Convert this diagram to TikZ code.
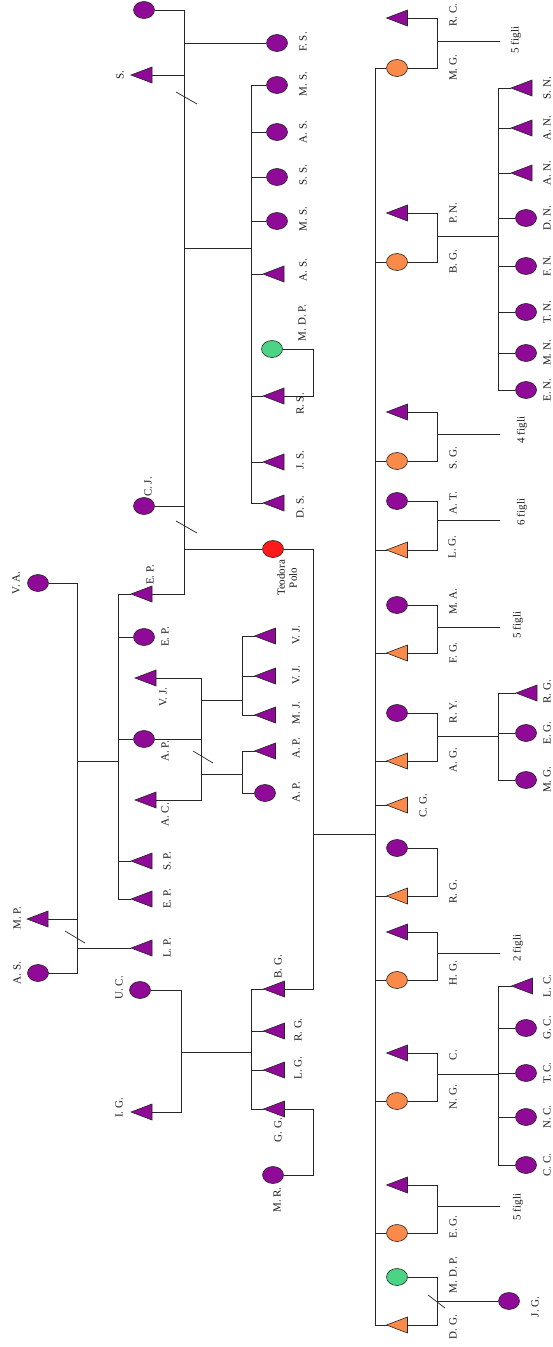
\documentclass[tikz,border=0pt]{standalone}
\usepackage{fontspec}
\setmainfont{Liberation Serif}
\usetikzlibrary{shapes.geometric}
\definecolor{pur}{HTML}{8E0A97}
\definecolor{org}{HTML}{F98A4A}
\definecolor{grn}{HTML}{4BD483}
\definecolor{rd}{HTML}{FF1A1A}
\tikzset{
 ln/.style={draw=black!85, line width=0.7pt},
 pc/.style={ellipse, draw=black!85, line width=0.6pt, minimum width=21pt, minimum height=17pt, inner sep=0pt},
 lab/.style={rotate=90, font=\fontsize{11}{12}\selectfont, inner sep=0pt, text=black!90},
 trib/.style={draw=black!85, line width=0.6pt, line join=miter},
}
\newcommand\tri[4]{\path (#2,#3) coordinate (#1) (#2-10.5,#3) coordinate (#1-l) (#2+10.5,#3) coordinate (#1-r); \filldraw[trib, fill=#4] (#1-l) -- (#2+10.5,#3-8) -- (#2+10.5,#3+8) -- cycle;}
\begin{document}
\begin{tikzpicture}[x=1pt,y=-1pt]
\useasboundingbox (0,0) rectangle (553,1347);
% bus coordinates
\coordinate (bT) at (184,0); \coordinate (bS) at (251,0); \coordinate (bB) at (313,0);
\coordinate (bP) at (77,0); \coordinate (bE) at (118,0); \coordinate (bA) at (201,0);
\coordinate (bJ) at (242,0); \coordinate (bU) at (181,0);
\coordinate (bM) at (375,0); \coordinate (bR) at (437,0); \coordinate (bK) at (498,0);

% ---------- top family ----------
\node[pc, fill=pur] (c0) at (144,10) {};
\node[pc, fill=pur] (FS) at (277,43) {};
\tri{S}{141.5}{75}{pur}
\node[pc,fill=pur] (MS1) at (277,85) {};
\node[pc,fill=pur] (AS1) at (277,132) {};
\node[pc,fill=pur] (SS) at (277,177) {};
\node[pc,fill=pur] (MS2) at (277,221) {};
\tri{AS2}{273.5}{274}{pur}
\node[pc,fill=grn] (MDP1) at (272,349) {};
\tri{RS}{273.5}{396}{pur}
\tri{JS}{273.5}{462}{pur}
\tri{DS}{273.5}{503}{pur}
\node[pc,fill=pur] (CJ) at (144,506) {};
\node[pc,fill=rd] (TP) at (273,549) {};
\tri{EP}{141.5}{594}{pur}

% ---------- E.P. family ----------
\node[pc,fill=pur] (VA) at (38,583) {};
\node[pc,fill=pur] (EPc) at (144,637) {};
\tri{VJ}{145.5}{678}{pur}
\node[pc,fill=pur] (APc) at (144,739) {};
\tri{AC}{145.5}{800}{pur}
\tri{SP}{141.5}{861}{pur}
\tri{EPb}{141.5}{899}{pur}
\tri{MP}{37.5}{919}{pur}
\tri{LP}{141.5}{948}{pur}
\node[pc,fill=pur] (ASc) at (38,973) {};
\tri{VJa}{265}{636}{pur}
\tri{VJb}{265}{676}{pur}
\tri{MJ}{265}{715}{pur}
\tri{APb}{265}{751}{pur}
\node[pc,fill=pur] (APd) at (265,793) {};

% ---------- U.C. family ----------
\node[pc,fill=pur] (UC) at (140,990) {};
\tri{IG}{141.5}{1112}{pur}
\tri{BG}{274}{989}{pur}
\tri{RG}{274}{1031}{pur}
\tri{LG}{274}{1070}{pur}
\tri{GG}{274}{1109}{pur}
\node[pc,fill=pur] (MR) at (273,1175) {};

% ---------- right family ----------
\tri{RC}{397}{18}{pur}
\node[pc,fill=org] (MG) at (397,68) {};
\tri{PN}{397}{213}{pur}
\node[pc,fill=org] (BGo) at (397,262) {};
\tri{SN}{521.5}{88}{pur}
\tri{ANa}{521.5}{128}{pur}
\tri{ANb}{521.5}{173}{pur}
\node[pc,fill=pur] (DN) at (526,218) {};
\node[pc,fill=pur] (FN) at (526,266) {};
\node[pc,fill=pur] (TN) at (526,312) {};
\node[pc,fill=pur] (MN) at (526,353) {};
\node[pc,fill=pur] (EN) at (526,390) {};
\tri{SGt}{397}{412}{pur}
\node[pc,fill=org] (SGo) at (397,461) {};
\node[pc,fill=pur] (AT) at (397,501) {};
\tri{LGo}{397}{550}{org}
\node[pc,fill=pur] (MA) at (397,605) {};
\tri{FGo}{397}{653}{org}
\node[pc,fill=pur] (RY) at (397,713) {};
\tri{AGo}{397}{761}{org}
\tri{RGc}{526.5}{693}{pur}
\node[pc,fill=pur] (EGc) at (526,733) {};
\node[pc,fill=pur] (MGc) at (526,780) {};
\tri{CGo}{397}{805}{org}
\node[pc,fill=pur] (RGp) at (397,848) {};
\tri{RGo}{397}{896}{org}
\tri{HGt}{397}{932}{pur}
\node[pc,fill=org] (HGo) at (397,980) {};
\tri{Ct}{397}{1053}{pur}
\node[pc,fill=org] (NGo) at (397,1101) {};
\tri{LC}{522}{986}{pur}
\node[pc,fill=pur] (GC) at (526,1028) {};
\node[pc,fill=pur] (TC) at (526,1073) {};
\node[pc,fill=pur] (NC) at (526,1117) {};
\node[pc,fill=pur] (CC) at (526,1165) {};
\tri{EGt}{397}{1185}{pur}
\node[pc,fill=org] (EGo) at (397,1233) {};
\node[pc,fill=grn] (MDP2) at (397,1277) {};
\tri{DGo}{397}{1325}{org}
\node[pc,fill=pur] (JG) at (509,1301) {};

% ========== connectors ==========
% top family
\draw[ln] (c0.east) -- (c0.east -| bT) -- (EP-r -| bT) -- (EP-r);
\draw[ln] (FS.west -| bT) -- (FS.west);
\draw[ln] (S-r) -- (S-r -| bT);
\coordinate (s1a) at (176,92); \coordinate (s1b) at (197,104); \draw[ln] (s1a) -- (s1b);
\coordinate (j1) at (184,248); \draw[ln] (j1) -- (j1 -| bS);
\draw[ln] (MS1.west -| bS) -- (DS-l -| bS);
\foreach \n in {MS1,AS1,SS,MS2} \draw[ln] (\n.west -| bS) -- (\n.west);
\foreach \n in {AS2,RS,JS,DS} \draw[ln] (\n-l -| bS) -- (\n-l);
\draw[ln] (MDP1.east) -- (MDP1.east -| bB) -- (RS-r -| bB) -- (RS-r);
\draw[ln] (CJ.east) -- (CJ.east -| bT);
\coordinate (s2a) at (176,521); \coordinate (s2b) at (197,533); \draw[ln] (s2a) -- (s2b);
\draw[ln] (TP.west -| bT) -- (TP.west);
\draw[ln] (TP.east) -- (TP.east -| bB) -- (BG-r -| bB) -- (BG-r);
\coordinate (j2) at (313,834); \draw[ln] (j2) -- (j2 -| bM);

% E.P. family
\draw[ln] (VA.east) -- (VA.east -| bP) -- (ASc.east -| bP) -- (ASc.east);
\draw[ln] (MP-r) -- (MP-r -| bP);
\coordinate (s3a) at (65,931); \coordinate (s3b) at (85,943); \draw[ln] (s3a) -- (s3b);
\draw[ln] (LP-l -| bP) -- (LP-l);
\coordinate (j3) at (77,761); \draw[ln] (j3) -- (j3 -| bE);
\draw[ln] (EP-l -| bE) -- (EPb-l -| bE);
\foreach \n in {EP,SP,EPb} \draw[ln] (\n-l -| bE) -- (\n-l);
\foreach \n in {EPc,APc} \draw[ln] (\n.west -| bE) -- (\n.west);
\draw[ln] (APc.east) -- (APc.east -| bA);
\draw[ln] (VJ-r) -- (VJ-r -| bA) -- (AC-r -| bA) -- (AC-r);
\coordinate (j4) at (201,700); \draw[ln] (j4) -- (j4 -| bJ);
\draw[ln] (VJa-l -| bJ) -- (MJ-l -| bJ);
\foreach \n in {VJa,VJb,MJ} \draw[ln] (\n-l -| bJ) -- (\n-l);
\coordinate (j5) at (201,774); \draw[ln] (j5) -- (j5 -| bJ);
\draw[ln] (APb-l -| bJ) -- (APd.west -| bJ);
\draw[ln] (APb-l -| bJ) -- (APb-l);
\draw[ln] (APd.west -| bJ) -- (APd.west);
\coordinate (s4a) at (193,751); \coordinate (s4b) at (213,763); \draw[ln] (s4a) -- (s4b);

% U.C. family
\draw[ln] (UC.east) -- (UC.east -| bU) -- (IG-r -| bU) -- (IG-r);
\coordinate (j6) at (181,1052); \draw[ln] (j6) -- (j6 -| bS);
\draw[ln] (BG-l -| bS) -- (GG-l -| bS);
\foreach \n in {BG,RG,LG,GG} \draw[ln] (\n-l -| bS) -- (\n-l);
\draw[ln] (GG-r) -- (GG-r -| bB) -- (MR.east -| bB) -- (MR.east);

% right family: main bus
\draw[ln] (MG.west -| bM) -- (DGo-l -| bM);
\foreach \n in {MG,BGo,SGo,HGo,NGo,EGo} \draw[ln] (\n.west -| bM) -- (\n.west);
\foreach \n in {LGo,FGo,AGo,CGo,RGo,DGo} \draw[ln] (\n-l -| bM) -- (\n-l);
% couples
\draw[ln] (MG.east) -- (MG.east -| bR) -- (RC-r -| bR) -- (RC-r);
\draw[ln] (BGo.east) -- (BGo.east -| bR) -- (PN-r -| bR) -- (PN-r);
\draw[ln] (SGo.east) -- (SGo.east -| bR) -- (SGt-r -| bR) -- (SGt-r);
\draw[ln] (LGo-r) -- (LGo-r -| bR) -- (AT.east -| bR) -- (AT.east);
\draw[ln] (FGo-r) -- (FGo-r -| bR) -- (MA.east -| bR) -- (MA.east);
\draw[ln] (AGo-r) -- (AGo-r -| bR) -- (RY.east -| bR) -- (RY.east);
\draw[ln] (RGo-r) -- (RGo-r -| bR) -- (RGp.east -| bR) -- (RGp.east);
\draw[ln] (HGo.east) -- (HGo.east -| bR) -- (HGt-r -| bR) -- (HGt-r);
\draw[ln] (NGo.east) -- (NGo.east -| bR) -- (Ct-r -| bR) -- (Ct-r);
\draw[ln] (EGo.east) -- (EGo.east -| bR) -- (EGt-r -| bR) -- (EGt-r);
\draw[ln] (DGo-r) -- (DGo-r -| bR) -- (MDP2.east -| bR) -- (MDP2.east);
% "figli" stubs
\coordinate (f1) at (500,41);   \draw[ln] (f1 -| bR) -- (f1);
\coordinate (f2) at (500,434);  \draw[ln] (f2 -| bR) -- (f2);
\coordinate (f3) at (500,520);  \draw[ln] (f3 -| bR) -- (f3);
\coordinate (f4) at (500,627);  \draw[ln] (f4 -| bR) -- (f4);
\coordinate (f5) at (500,953);  \draw[ln] (f5 -| bR) -- (f5);
\coordinate (f6) at (500,1206); \draw[ln] (f6 -| bR) -- (f6);
% children of B.G.
\coordinate (k1) at (437,236); \draw[ln] (k1) -- (k1 -| bK);
\draw[ln] (SN-l -| bK) -- (EN.west -| bK);
\foreach \n in {SN,ANa,ANb} \draw[ln] (\n-l -| bK) -- (\n-l);
\foreach \n in {DN,FN,TN,MN,EN} \draw[ln] (\n.west -| bK) -- (\n.west);
% children of A.G.
\coordinate (k2) at (437,736); \draw[ln] (k2) -- (k2 -| bK);
\draw[ln] (RGc-l -| bK) -- (MGc.west -| bK);
\draw[ln] (RGc-l -| bK) -- (RGc-l);
\foreach \n in {EGc,MGc} \draw[ln] (\n.west -| bK) -- (\n.west);
% children of N.G.
\coordinate (k3) at (437,1074); \draw[ln] (k3) -- (k3 -| bK);
\draw[ln] (LC-l -| bK) -- (CC.west -| bK);
\draw[ln] (LC-l -| bK) -- (LC-l);
\foreach \n in {GC,TC,NC,CC} \draw[ln] (\n.west -| bK) -- (\n.west);
% D.G. -- J.G.
\coordinate (k4) at (437,1301); \draw[ln] (k4) -- (JG.west);
\coordinate (s5a) at (428,1295); \coordinate (s5b) at (445,1308); \draw[ln] (s5a) -- (s5b);

% ========== labels ==========
\node[lab] (tS) at (120,75) {S.};
\node[lab] (tFS) at (303,42) {F. S.};
\node[lab] (tMS1) at (303,84) {M. S.};
\node[lab] (tAS1) at (303,132) {A. S.};
\node[lab] (tSS) at (303,175) {S. S.};
\node[lab] (tMS2) at (303,219) {M. S.};
\node[lab] (tAS2) at (303,270) {A. S.};
\node[lab] (tMDP1) at (302,323) {M. D. P.};
\node[lab] (tRS) at (300,404) {R. S.};
\node[lab] (tJS) at (300,460) {J. S.};
\node[lab] (tDS) at (300,507) {D. S.};
\node[lab] (tCJ) at (148,487) {C. J.};
\node[lab, align=center] (tTP) at (287,578) {Teodora\\Polo};
\node[lab] (tVA) at (16,583) {V. A.};
\node[lab] (tEP) at (150,575) {E. P.};
\node[lab] (tEPc) at (165,637) {E. P.};
\node[lab] (tVJ) at (163,697) {V. J.};
\node[lab] (tAPc) at (165,751) {A. P.};
\node[lab] (tAC) at (165,815) {A. C.};
\node[lab] (tSP) at (167,861) {S. P.};
\node[lab] (tEPb) at (167,899) {E. P.};
\node[lab] (tMP) at (17,918) {M. P.};
\node[lab] (tLP) at (167,948) {L. P.};
\node[lab] (tASc) at (17,973) {A. S.};
\node[lab] (tUC) at (119,988) {U. C.};
\node[lab] (tIG) at (119,1108) {I. G.};
\node[lab] (tVJa) at (296,635) {V. J.};
\node[lab] (tVJb) at (296,675) {V. J.};
\node[lab] (tMJ) at (296,713) {M. J.};
\node[lab] (tAPb) at (296,748) {A. P.};
\node[lab] (tAPd) at (296,792) {A. P.};
\node[lab] (tBG) at (278,967) {B. G.};
\node[lab] (tRG) at (298,1030) {R. G.};
\node[lab] (tLG) at (298,1068) {L. G.};
\node[lab] (tGG) at (278,1130) {G. G.};
\node[lab] (tMR) at (277,1200) {M. R.};
% right column labels
\node[lab] (tRC) at (453,15) {R. C.};
\node[lab] (tMG) at (453,68) {M. G.};
\node[lab] (tPN) at (453,213) {P. N.};
\node[lab] (tBGo) at (453,262) {B. G.};
\node[lab] (tSGo) at (453,458) {S. G.};
\node[lab] (tAT) at (453,503) {A. T.};
\node[lab] (tLGo) at (452,547) {L. G.};
\node[lab] (tMA) at (453,602) {M. A.};
\node[lab] (tFGo) at (453,653) {F. G.};
\node[lab] (tRY) at (453,712) {R. Y.};
\node[lab] (tAGo) at (453,760) {A. G.};
\node[lab] (tCGo) at (423,806) {C. G.};
\node[lab] (tRGo) at (453,892) {R. G.};
\node[lab] (tHGo) at (453,973) {H. G.};
\node[lab] (tCt) at (453,1055) {C.};
\node[lab] (tNGo) at (453,1097) {N. G.};
\node[lab] (tEGo) at (453,1227) {E. G.};
\node[lab] (tMDP2) at (453,1275) {M. D. P.};
\node[lab] (tDGo) at (453,1327) {D. G.};
% figli
\node[lab] (tf1) at (516,40) {5 figli};
\node[lab] (tf2) at (522,430) {4 figli};
\node[lab] (tf3) at (522,512) {6 figli};
\node[lab] (tf4) at (518,625) {5 figli};
\node[lab] (tf5) at (518,948) {2 figli};
\node[lab] (tf6) at (518,1207) {5 figli};
% children labels
\node[lab] (tSN) at (547,88) {S. N.};
\node[lab] (tANa) at (547,128) {A. N.};
\node[lab] (tANb) at (547,173) {A. N.};
\node[lab] (tDN) at (547,218) {D. N.};
\node[lab] (tFN) at (547,266) {F. N.};
\node[lab] (tTN) at (547,312) {T. N.};
\node[lab] (tMN) at (547,353) {M. N.};
\node[lab] (tEN) at (547,390) {E. N.};
\node[lab] (tRGc) at (547,692) {R. G.};
\node[lab] (tEGc) at (547,733) {E. G.};
\node[lab] (tMGc) at (547,780) {M. G.};
\node[lab] (tLC) at (547,986) {L. C.};
\node[lab] (tGC) at (547,1028) {G. C.};
\node[lab] (tTC) at (547,1073) {T. C.};
\node[lab] (tNC) at (547,1117) {N. C.};
\node[lab] (tCC) at (547,1165) {C. C.};
\node[lab] (tJG) at (535,1307) {J. G.};
\end{tikzpicture}
\end{document}
